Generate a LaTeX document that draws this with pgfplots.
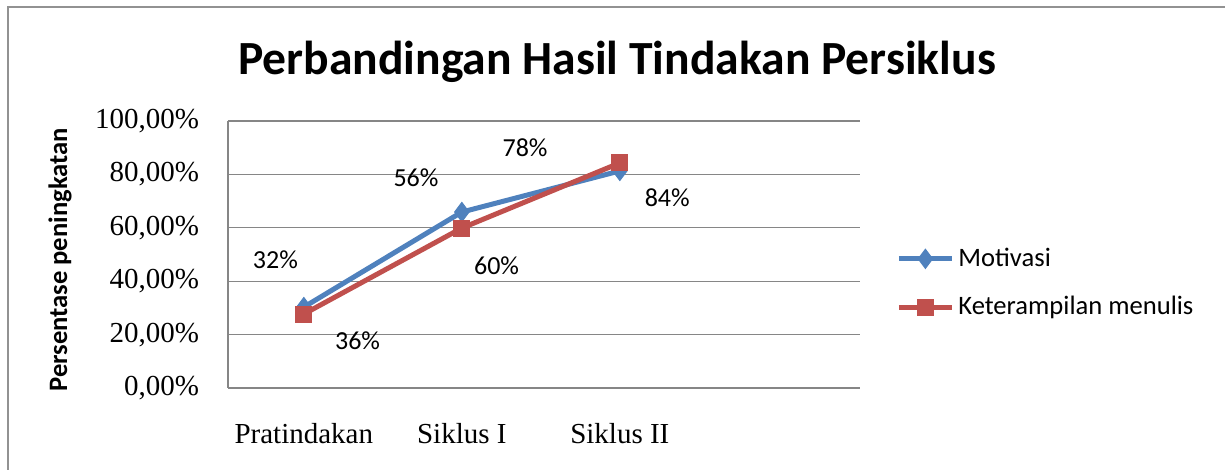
\documentclass[border=0pt]{standalone}
\usepackage{pgfplots}
\pgfplotsset{compat=1.18}
\usepackage{fontspec}
\setmainfont{Liberation Serif}
\newfontfamily\carl{Carlito}
\definecolor{mblue}{HTML}{4F81BD}
\definecolor{mred}{HTML}{C0504D}
\definecolor{gridg}{HTML}{868686}
\begin{document}
\begin{tikzpicture}
\path[use as bounding box] (0,0) rectangle (612.5pt,235pt);
\draw[color=gridg!90, line width=1pt] (3.75pt,-10pt) -- (3.75pt,231.25pt) -- (630pt,231.25pt);
\node[font=\carl\bfseries\fontsize{23.8}{28}\selectfont] at (308.5pt,204pt) {Perbandingan Hasil Tindakan Persiklus};
\node[font=\carl\bfseries\fontsize{13.3}{16}\selectfont, rotate=90] at (30pt,105pt) {Persentase peningkatan};
\begin{axis}[
  at={(114pt,41pt)}, anchor=south west,
  scale only axis, width=316pt, height=133.5pt,
  xmin=-0.5, xmax=3.5, ymin=0, ymax=100,
  xtick={-0.02,0.98,1.98}, xticklabels={Pratindakan,Siklus I,Siklus II},
  ytick={0,20,40,60,80,100},
  yticklabels={{0,00\%},{20,00\%},{40,00\%},{60,00\%},{80,00\%},{100,00\%}},
  tick label style={font=\fontsize{14.5}{16}\selectfont},
  yticklabel style={xshift=-11pt},
  xticklabel style={yshift=-14pt},
  major tick length=0pt,
  axis x line*=bottom, axis y line*=left,
  axis line style={draw=gridg, line width=0.6pt},
  ymajorgrids, grid style={draw=gridg, line width=0.6pt},
  clip=false,
  legend style={at={(1,0.393)}, anchor=west, xshift=15pt, draw=none, fill=none,
    font=\carl\fontsize{13.3}{16}\selectfont, row sep=13.5pt,
    nodes={inner xsep=2pt, inner ysep=0pt}},
  legend cell align=left,
  legend image code/.code={\draw[mark repeat=2,mark phase=2,#1] plot coordinates {(0pt,0pt) (13.25pt,0pt) (26.5pt,0pt)};},
]
\addplot[color=mblue, line width=2.5pt, mark=diamond*, mark size=4.8pt, mark options={fill=mblue, line width=0.5pt}]
  coordinates {(-0.02,30.3) (0.98,65.9) (1.98,81.3)};
\addlegendentry{Motivasi}
\addplot[color=mred, line width=2.5pt, mark=square*, mark size=4pt, mark options={fill=mred, line width=0.5pt}]
  coordinates {(-0.02,27.7) (0.98,59.9) (1.98,84.3)};
\addlegendentry{Keterampilan menulis}
\begin{scope}[font=\carl\fontsize{13}{15}\selectfont]
\node at (axis cs:-0.20,47.9) {32\%};
\node at (axis cs:0.32,17.6) {36\%};
\node at (axis cs:0.69,78.7) {56\%};
\node at (axis cs:1.20,45.7) {60\%};
\node at (axis cs:1.38,89.9) {78\%};
\node at (axis cs:2.28,71.2) {84\%};
\end{scope}
\end{axis}
\end{tikzpicture}
\end{document}
